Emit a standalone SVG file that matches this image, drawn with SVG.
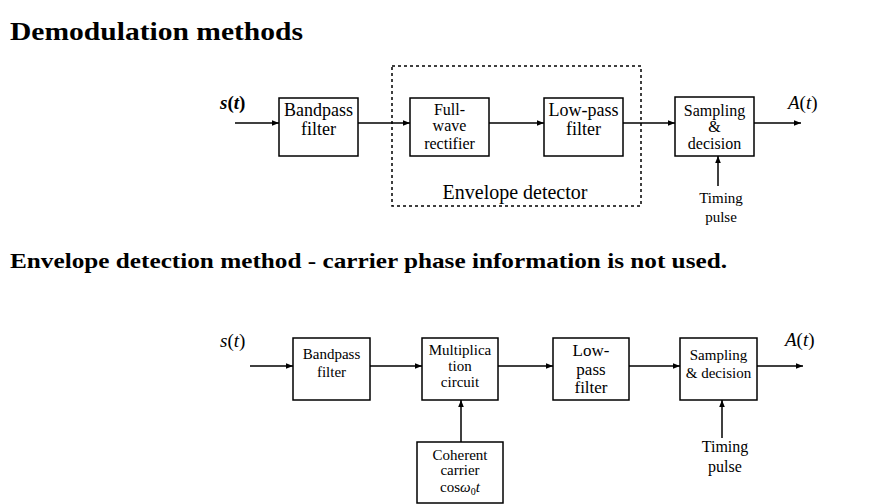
<svg xmlns="http://www.w3.org/2000/svg" width="880" height="504" viewBox="0 0 880 504">
<defs>
<marker id="ah" viewBox="0 0 10 10" refX="10" refY="5" markerWidth="7" markerHeight="7" orient="auto" markerUnits="userSpaceOnUse">
<path d="M0,1 L10,5 L0,9 z" fill="#000"/>
</marker>
<style>
text{font-family:'Liberation Serif',serif}
.box{fill:#fff;stroke:#000;stroke-width:1.5}
.t{fill:#000;text-anchor:middle}
.t1{font-size:18px}
.t3{font-size:16px}
.t2{font-size:15px}
.ln{stroke:#000;stroke-width:1.5;fill:none;marker-end:url(#ah)}
.hd{font-weight:bold;fill:#000}
.sig{font-size:19px;fill:#000}
</style>
</defs>
<rect width="880" height="504" fill="#fff"/>
<text class="hd" x="10" y="40" font-size="25" textLength="293" lengthAdjust="spacingAndGlyphs">Demodulation methods</text>
<text class="hd" x="10" y="268" font-size="22" textLength="717" lengthAdjust="spacingAndGlyphs">Envelope detection method  -  carrier phase information is not used.</text>

<g id="top-envelope-detector">
<rect x="392" y="66" width="249" height="140" fill="none" stroke="#000" stroke-width="1.5" stroke-dasharray="3,3"/>
<text class="t" x="515" y="199" font-size="20">Envelope detector</text>
</g>
<g id="top-sin"><text class="sig" x="220" y="109" font-weight="bold"><tspan font-style="italic">s</tspan>(<tspan font-style="italic">t</tspan>)</text></g>
<g id="top-bandpass"><rect class="box" x="279" y="98" width="79" height="58"/>
<text class="t t1" x="318.5" y="116">Bandpass</text><text class="t t1" x="318.5" y="135">filter</text></g>
<g id="top-rectifier"><rect class="box" x="410" y="98" width="79" height="58"/>
<text class="t t3" x="449.5" y="115">Full-</text><text class="t t3" x="449.5" y="131">wave</text><text class="t t3" x="449.5" y="149">rectifier</text></g>
<g id="top-lowpass"><rect class="box" x="544" y="98" width="79" height="58"/>
<text class="t t1" x="583.5" y="116">Low-pass</text><text class="t t1" x="583.5" y="135">filter</text></g>
<g id="top-sampling"><rect class="box" x="675" y="97" width="79" height="59"/>
<text class="t t3" x="714.5" y="116">Sampling</text><text class="t t3" x="714.5" y="132">&amp;</text><text class="t t3" x="714.5" y="149">decision</text></g>
<g id="top-out"><text class="sig" x="788" y="109"><tspan font-style="italic">A</tspan>(<tspan font-style="italic">t</tspan>)</text></g>
<g id="top-timing"><text class="t t2" x="721" y="203">Timing</text><text class="t t2" x="721" y="222">pulse</text></g>

<g id="bot-sin"><text class="sig" x="220" y="347"><tspan font-style="italic">s</tspan>(<tspan font-style="italic">t</tspan>)</text></g>
<g id="bot-bandpass"><rect class="box" x="293" y="338" width="77" height="62"/>
<text class="t t2" x="331.5" y="359">Bandpass</text><text class="t t2" x="331.5" y="377">filter</text></g>
<g id="bot-mult"><rect class="box" x="422" y="338" width="76" height="62"/>
<text class="t t2" x="460" y="355">Multiplica</text><text class="t t2" x="460" y="371">tion</text><text class="t t2" x="460" y="387">circuit</text></g>
<g id="bot-carrier"><rect class="box" x="417" y="442" width="86" height="61"/>
<text class="t t2" x="460" y="460">Coherent</text><text class="t t2" x="460" y="475">carrier</text><text class="t t2" x="460" y="492">cos<tspan font-style="italic">ω</tspan><tspan font-size="10" dy="3">0</tspan><tspan font-style="italic" dy="-3">t</tspan></text></g>
<g id="bot-lowpass"><rect class="box" x="553" y="338" width="76" height="62"/>
<text class="t" font-size="17" x="591" y="356">Low-</text><text class="t" font-size="17" x="591" y="375">pass</text><text class="t" font-size="17" x="591" y="393">filter</text></g>
<g id="bot-sampling"><rect class="box" x="680" y="338" width="77" height="62"/>
<text class="t t2" x="718.5" y="360">Sampling</text><text class="t t2" x="718.5" y="378">&amp; decision</text></g>
<g id="bot-out"><text class="sig" x="785" y="346"><tspan font-style="italic">A</tspan>(<tspan font-style="italic">t</tspan>)</text></g>
<g id="bot-timing"><text class="t" font-size="16" x="725" y="452">Timing</text><text class="t" font-size="16" x="725" y="472">pulse</text></g>

<g id="connectors">
<line class="ln" x1="235" y1="123" x2="279" y2="123"/>
<line class="ln" x1="358" y1="123" x2="410" y2="123"/>
<line class="ln" x1="489" y1="123" x2="544" y2="123"/>
<line class="ln" x1="623" y1="123" x2="675" y2="123"/>
<line class="ln" x1="754" y1="123" x2="801" y2="123"/>
<line class="ln" x1="718" y1="186" x2="718" y2="156"/>
<line class="ln" x1="250" y1="366" x2="293" y2="366"/>
<line class="ln" x1="370" y1="366" x2="422" y2="366"/>
<line class="ln" x1="498" y1="366" x2="553" y2="366"/>
<line class="ln" x1="629" y1="366" x2="680" y2="366"/>
<line class="ln" x1="757" y1="366" x2="803" y2="366"/>
<line class="ln" x1="461" y1="442" x2="461" y2="400"/>
<line class="ln" x1="722" y1="438" x2="722" y2="400"/>
</g>
</svg>
